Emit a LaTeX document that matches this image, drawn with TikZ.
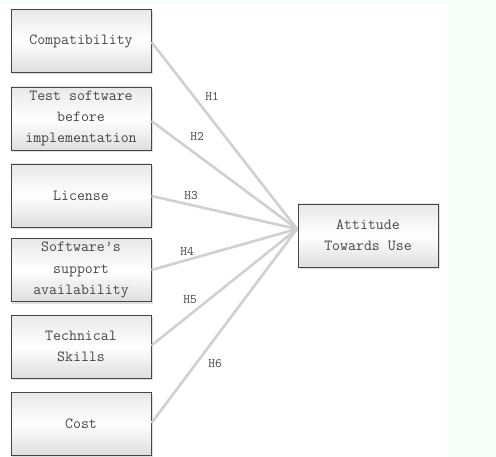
\documentclass[tikz,border=0pt]{standalone}
\usepackage{fontspec}
\setmonofont{Latin Modern Mono}
\usetikzlibrary{shadows}
\definecolor{bgg}{RGB}{246,255,249}
\definecolor{linec}{RGB}{208,208,208}
\definecolor{txt}{RGB}{70,70,70}
\definecolor{bord}{RGB}{70,70,70}
\begin{document}
\begin{tikzpicture}[x=1bp,y=-1bp,
  box/.style={draw=bord, line width=0.9bp, minimum width=140bp, minimum height=63bp,
    inner sep=0pt, align=center, text=txt,
    top color=black!9, bottom color=black!13, middle color=white,
    drop shadow={shadow xshift=1.5bp, shadow yshift=-2bp, opacity=0.25},
    font={\ttfamily\fontsize{15.5}{21.5}\selectfont}},
  conn/.style={draw=linec, line width=2.6bp},
  hlab/.style={text=txt, inner sep=0pt, font={\ttfamily\fontsize{13}{13}\selectfont}}]
\useasboundingbox (0,0) rectangle (496,457);
\fill[white] (0,0) rectangle (496,457);
\fill[bgg] (447,0) rectangle (496,457);
\fill[bgg] (0,0) rectangle (447,3);
\node[box] (b1) at (81,41) {Compatibility};
\node[box] (b2) at (81,118.5) {Test software\\before\\implementation};
\node[box] (b3) at (81,195.5) {License};
\node[box] (b4) at (81,270) {Software’s\\support\\availability};
\node[box] (b5) at (81,346.5) {Technical\\Skills};
\node[box] (b6) at (81,423.5) {Cost};
\node[box] (t) at (368,235.5) {Attitude\\Towards Use};
\coordinate (conv) at (297,229);
\draw[conn] ([yshift=-1bp]b1.east) -- (conv);
\draw[conn] ([yshift=-2.5bp]b2.east) -- (conv);
\draw[conn] ([yshift=-0.5bp]b3.east) -- (conv);
\draw[conn] (b4.east) -- (conv);
\draw[conn] ([yshift=1bp]b5.east) -- (conv);
\draw[conn] ([yshift=0.5bp]b6.east) -- (conv);
\node[hlab] (h1) at (212,96) {H1};
\node[hlab] (h2) at (197,136) {H2};
\node[hlab] (h3) at (191,196) {H3};
\node[hlab] (h4) at (187,251) {H4};
\node[hlab] (h5) at (190,300) {H5};
\node[hlab] (h6) at (215,364) {H6};
\end{tikzpicture}
\end{document}
